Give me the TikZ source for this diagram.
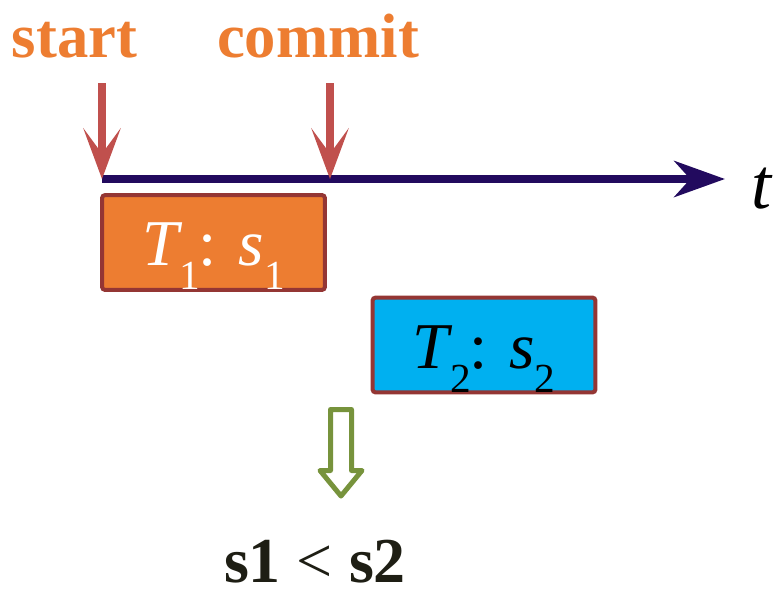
\documentclass[tikz,border=0pt]{standalone}
\usepackage{fontspec}
\setmainfont{Liberation Serif}
\usetikzlibrary{arrows.meta,positioning,calc}
\definecolor{Tang}{HTML}{ED7D31}
\definecolor{Brick}{HTML}{C0504D}
\definecolor{Indigo}{HTML}{220A5E}
\definecolor{Sky}{HTML}{00B0F0}
\definecolor{Rust}{HTML}{943634}
\definecolor{Olive}{HTML}{77933C}
\definecolor{Ink}{HTML}{1E1E14}
\newcommand{\lowsub}[1]{\raisebox{-18pt}{\fontsize{31}{31}\selectfont #1}}
\tikzset{
  txnbox/.style={draw=Rust, line width=3pt, rounded corners=2pt,
    minimum width=167pt, minimum height=71pt, inner sep=0pt,
    text height=53pt, text depth=18pt, font=\rmfamily\fontsize{49}{50}\selectfont,
    fill=#1},
  txnbox/.default={white},
  markarr/.style={-{Stealth[length=38pt,width=28pt,inset=19pt]}, line width=6pt, color=Brick},
  timearr/.style={-{Stealth[length=38pt,width=27pt,inset=12pt]}, line width=6pt, color=Indigo},
}

\begin{document}
\begin{tikzpicture}[x=0.75pt, y=-0.75pt,
  evt/.style={text=Tang, font=\rmfamily\bfseries\fontsize{47}{48}\selectfont,
    anchor=base, inner sep=0pt},
]
  \useasboundingbox (0,0) rectangle (776,594);
  % time axis
  \coordinate (t0) at (102,179);
  \coordinate (tc) at (330,179);
  \coordinate (tend) at (725,179);
  \draw[timearr] (t0) -- (tend);
  \node[anchor=base, inner sep=0pt, font=\rmfamily\itshape\fontsize{54}{56}\selectfont] (tlab) at (761,208) {t};

  % events on the axis
  \node[evt] (start) at (74.5,57) {start};
  \node[evt] (commit) at (318,57) {commit};
  \coordinate (s0) at (102,83);
  \coordinate (c0) at (330,83);
  \draw[markarr] (s0) -- (t0);
  \draw[markarr] (c0) -- (tc);

  % transactions
  \node[txnbox=Tang, text=white] (T1) at (213.5,242.5)
    {\textit{T}\kern-2pt\lowsub{1}\kern-1pt: \textit{s}\lowsub{1}};
  \node[txnbox=Sky, text=black] (T2) at (484,345)
    {\textit{T}\kern-2pt\lowsub{2}\kern-1pt: \textit{s}\lowsub{2}};

  % implication
  \coordinate (imp) at (341,409.5);
  \draw[line width=3.75pt, draw=Olive, fill=white, line join=round]
    (imp) ++(-10.5,0) -- ++(0,61) -- ++(-10.5,0) -- ++(21,25.5)
    -- ++(21,-25.5) -- ++(-10.5,0) -- ++(0,-61) -- cycle;
  \node[anchor=base, inner sep=0pt, text=Ink, font=\rmfamily\bfseries\fontsize{48}{50}\selectfont]
    (res) at (315,582) {s1 {\mdseries <} s2};
\end{tikzpicture}
\end{document}
